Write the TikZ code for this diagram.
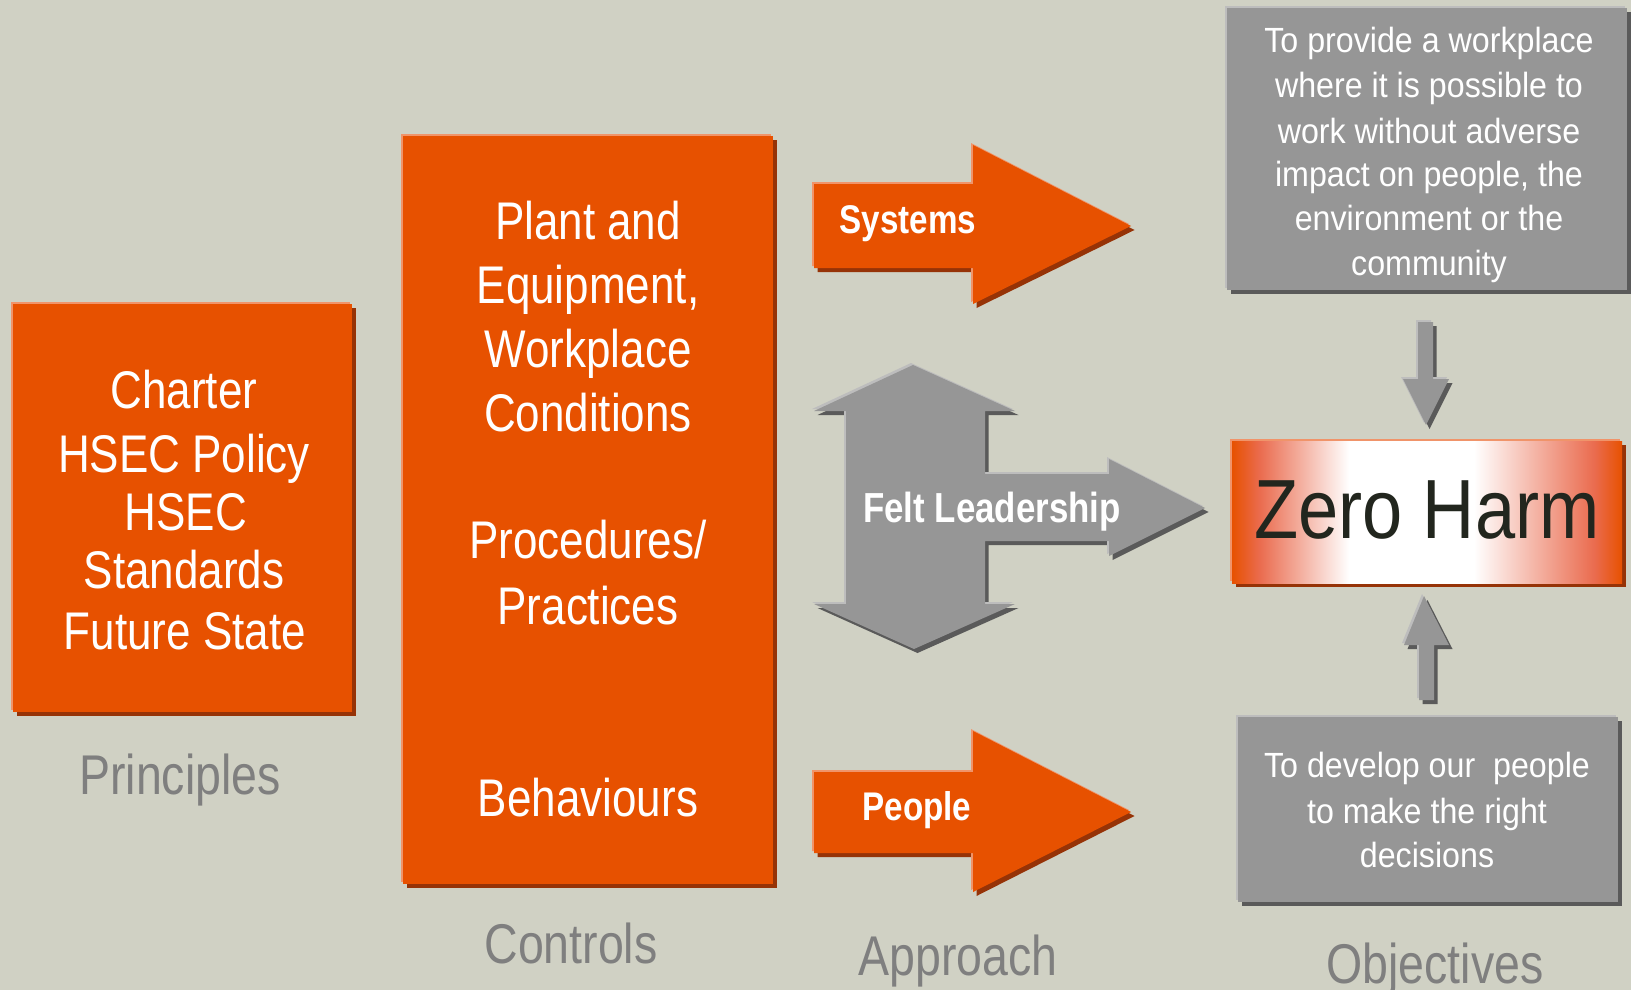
\documentclass[tikz,border=0pt]{standalone}
\usepackage{fontspec}
\setmainfont{Liberation Sans}[FakeStretch=0.83]
\newfontfamily\boxfont{Liberation Sans}[FakeStretch=0.92]
\newfontfamily\zerofont{Liberation Sans}[FakeStretch=0.86]
\definecolor{bg}{HTML}{D0D1C4}
\definecolor{org}{HTML}{E75100}
\definecolor{orgdark}{HTML}{963307}
\definecolor{orglight}{HTML}{F0946A}
\definecolor{gry}{HTML}{969696}
\definecolor{grydark}{HTML}{5A5A5A}
\definecolor{grylight}{HTML}{BDBDBD}
\definecolor{lbl}{HTML}{7F7F7F}
\definecolor{zred}{HTML}{EA6B4E}
\definecolor{ztext}{HTML}{22261E}
\pgfdeclarehorizontalshading{zeroshade}{100bp}{color(0bp)=(org); color(25bp)=(org); color(28.5bp)=(zred); color(40bp)=(white); color(56bp)=(white); color(71.5bp)=(zred); color(75bp)=(org); color(100bp)=(org)}
\newcommand\fsz[1]{\fontsize{#1}{#1}\selectfont}
\newcommand\layered[4]{%
  \begin{scope}[shift={(3.5,4)}]\fill[#3] #4;\end{scope}%
  \begin{scope}[shift={(-2,-2)}]\fill[#2] #4;\end{scope}%
  \fill[#1] #4;}
\tikzset{
  txt/.style={inner sep=0pt, anchor=base, text=white, align=center},
  big/.style={txt, font=\fsz{53}},
  arr/.style={txt, font=\fsz{40}\bfseries},
  boxt/.style={txt, font=\boxfont\fsz{35}},
  lab/.style={inner sep=0pt, anchor=base, text=lbl, font=\fsz{56}},
}
\begin{document}
\begin{tikzpicture}[x=1pt,y=-1pt]
\fill[bg] (0,0) rectangle (1631,990);
\useasboundingbox (0,0) rectangle (1631,990);

% Principles box
\layered{org}{orglight}{orgdark}{(13,304) rectangle (352,712)}
\node[big] (p1) at (184,408) {Charter};
\node[big] (p2) at (184,472) {HSEC Policy};
\node[big] (p3) at (186,530) {HSEC};
\node[big] (p4) at (184,588) {Standards};
\node[big] (p5) at (185,649) {Future State};
\node[lab] (lprin) at (180,794) {Principles};

% Controls box
\layered{org}{orglight}{orgdark}{(403,136) rectangle (773,884)}
\node[big] (c1) at (588,239) {Plant and};
\node[big] (c2) at (588,303) {Equipment,};
\node[big] (c3) at (588,367) {Workplace};
\node[big] (c4) at (588,431) {Conditions};
\node[big] (c5) at (588,558) {Procedures/};
\node[big] (c6) at (588,624) {Practices};
\node[big] (c7) at (588,816) {Behaviours};
\node[lab] (lctrl) at (571,963) {Controls};

% Systems arrow
\layered{org}{orglight}{orgdark}{(814,184) -- (973,184) -- (973,145) -- (1131,226) -- (973,304) -- (973,268) -- (814,268) -- cycle}
\node[arr] (sys) at (908,233) {Systems};

% People arrow
\layered{org}{orglight}{orgdark}{(814,772) -- (973,772) -- (973,731) -- (1131,812) -- (973,892) -- (973,853) -- (814,853) -- cycle}
\node[arr] (ppl) at (917,820) {People};

% Felt leadership
\layered{gry}{grylight}{grydark}{(913,365) -- (1015,411) -- (985,411) -- (985,474) -- (1109,474) -- (1109,459) -- (1205,508) -- (1109,556) -- (1109,541) -- (985,541) -- (985,604) -- (1015,604) -- (914,649) -- (814,604) -- (846,604) -- (846,411) -- (814,411) -- cycle}
\node[arr, font=\fsz{42}\bfseries] (felt) at (992,522) {Felt Leadership};
\node[lab] (lappr) at (958,975) {Approach};

% Objective boxes
\layered{gry}{grylight}{grydark}{(1227,8) rectangle (1627,290)}
\node[boxt] (o1) at (1429,53) {To provide a workplace};
\node[boxt] (o2) at (1429,98) {where it is possible to};
\node[boxt] (o3) at (1429,143) {work without adverse};
\node[boxt] (o4) at (1429,186) {impact on people, the};
\node[boxt] (o5) at (1429,230) {environment or the};
\node[boxt] (o6) at (1429,275) {community};

% down arrow
\layered{gry}{grylight}{grydark}{(1418,322) -- (1433,322) -- (1433,379) -- (1449,379) -- (1426,425) -- (1403,379) -- (1418,379) -- cycle}

% Zero Harm
\begin{scope}[shift={(3.5,4)}]\fill[orgdark] (1232,441) rectangle (1622,583);\end{scope}
\begin{scope}[shift={(-2,-2)}]\fill[orglight] (1232,441) rectangle (1622,583);\end{scope}
\shade[shading=zeroshade] (1232,441) rectangle (1622,583);
\node[inner sep=0pt, anchor=base, text=ztext, font=\zerofont\fsz{84}] (zero) at (1427,538) {Zero Harm};

% up arrow
\layered{gry}{grylight}{grydark}{(1424,596) -- (1449,645) -- (1434,645) -- (1434,700) -- (1419,700) -- (1419,645) -- (1404,645) -- cycle}

\layered{gry}{grylight}{grydark}{(1238,717) rectangle (1618,902)}
\node[boxt] (d1) at (1427,777) {To develop our\ \ people};
\node[boxt] (d2) at (1427,823) {to make the right};
\node[boxt] (d3) at (1427,867) {decisions};
\node[lab] (lobj) at (1435,983) {Objectives};
\end{tikzpicture}
\end{document}
